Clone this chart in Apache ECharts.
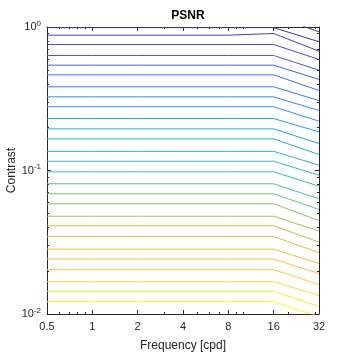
<!DOCTYPE html>
<html>
<head>
<meta charset="utf-8">
<script src="https://cdn.jsdelivr.net/npm/echarts@6/dist/echarts.min.js"></script>
<style>
  html, body { margin: 0; padding: 0; background: #fff; }
  #chart { width: 354px; height: 354px; }
</style>
</head>
<body>
<div id="chart"></div>
<script>
// contour lines of PSNR, top (high contrast) to bottom
var frequencies = [0.5, 1, 2, 4, 8, 16, 32];
var contrastFlat = [1.2, 0.99, 0.877, 0.755, 0.633, 0.542, 0.464, 0.383, 0.326, 0.278,
  0.230, 0.195, 0.166, 0.136, 0.116, 0.0979, 0.0808, 0.0688, 0.0586, 0.0480,
  0.0412, 0.0347, 0.0283, 0.0242, 0.0204, 0.0168, 0.0144, 0.0122];
var contrastAt16 = [1.2, 0.99, 0.901, 0.755, 0.633, 0.542, 0.464, 0.383, 0.326, 0.278,
  0.230, 0.195, 0.166, 0.136, 0.116, 0.0979, 0.0808, 0.0688, 0.0586, 0.0480,
  0.0412, 0.0347, 0.0283, 0.0242, 0.0204, 0.0168, 0.0144, 0.0122];
var contrastAt32 = [0.926, 0.789, 0.678, 0.594, 0.500, 0.431, 0.361, 0.307, 0.262, 0.2207,
  0.186, 0.1542, 0.1293, 0.1089, 0.0927, 0.0777, 0.0635, 0.0535, 0.0448, 0.0378,
  0.0317, 0.0267, 0.0225, 0.0191, 0.01605, 0.01345, 0.01128, 0.00961];
var xTickLabels = ['0.5', '1', '2', '4', '8', '16', '32'];
var yMinorTicks = [0.02, 0.03, 0.04, 0.05, 0.06, 0.07, 0.08, 0.09,
  0.2, 0.3, 0.4, 0.5, 0.6, 0.7, 0.8, 0.9];
var xMinorTicks = [0.6, 0.7, 0.8, 0.9, 3, 5, 6, 7, 9, 10, 20, 30];

// parula stops
var parula = [[62, 38, 168], [72, 82, 244], [46, 135, 247], [18, 177, 214],
  [55, 200, 151], [171, 199, 57], [254, 195, 56], [249, 251, 21]];
function parulaColor(t) {
  var p = t * (parula.length - 1);
  var i = Math.min(Math.floor(p), parula.length - 2);
  var f = p - i;
  var a = parula[i], b = parula[i + 1];
  var c = [0, 1, 2].map(function (k) { return Math.round(a[k] + (b[k] - a[k]) * f); });
  return 'rgb(' + c.join(',') + ')';
}

var n = contrastFlat.length;
var series = [];
for (var i = 0; i < n; i++) {
  var pts = [];
  for (var j = 0; j < frequencies.length; j++) {
    var fq = frequencies[j];
    var c = fq <= 8 ? contrastFlat[i] : (fq === 16 ? contrastAt16[i] : contrastAt32[i]);
    pts.push([fq, c]);
  }
  series.push({
    type: 'line',
    data: pts,
    symbol: 'none',
    clip: true,
    silent: true,
    lineStyle: { width: 1, color: parulaColor(i / (n - 1)) }
  });
}

var axisColor = '#262626';
var font = 'Liberation Sans, Arial, Helvetica, sans-serif';

var chart = echarts.init(document.getElementById('chart'), null, { renderer: 'canvas' });
chart.setOption({
  animation: false,
  backgroundColor: '#fff',
  title: {
    text: 'PSNR',
    left: 183,
    top: 5,
    textAlign: 'center',
    textStyle: { fontFamily: font, fontSize: 12, fontWeight: 'bold', color: '#000' }
  },
  grid: { left: 47, right: 35, top: 27, bottom: 40, containLabel: false, outerBoundsMode: 'none' },
  xAxis: [{
    type: 'log', logBase: 2, min: 0.5, max: 32,
    name: 'Frequency [cpd]', nameLocation: 'middle', nameGap: 26, nameMoveOverlap: false,
    nameTextStyle: { fontFamily: font, fontSize: 12, color: axisColor },
    axisLine: { lineStyle: { color: axisColor, width: 1 } },
    axisTick: { inside: true, length: 4, lineStyle: { color: axisColor } },
    axisLabel: {
      fontFamily: font, fontSize: 11, color: axisColor, margin: 7,
      formatter: function (v) {
        var k = Math.round(Math.log(v) / Math.LN2) + 1;
        return xTickLabels[k] || '';
      }
    },
    splitLine: { show: false }
  }, {
    type: 'log', logBase: 2, min: 0.5, max: 32, position: 'top',
    axisLine: { lineStyle: { color: axisColor, width: 1 } },
    axisTick: { inside: true, length: 4, lineStyle: { color: axisColor } },
    axisLabel: { show: false },
    splitLine: { show: false }
  }, {
    type: 'log', logBase: 2, min: 0.5, max: 32, position: 'bottom',
    axisLine: { show: false },
    axisTick: { inside: true, length: 2, customValues: xMinorTicks, lineStyle: { color: axisColor } },
    axisLabel: { show: false },
    splitLine: { show: false }
  }, {
    type: 'log', logBase: 2, min: 0.5, max: 32, position: 'top',
    axisLine: { show: false },
    axisTick: { inside: true, length: 2, customValues: xMinorTicks, lineStyle: { color: axisColor } },
    axisLabel: { show: false },
    splitLine: { show: false }
  }],
  yAxis: [{
    type: 'log', logBase: 10, min: 0.01, max: 1,
    name: 'Contrast', nameLocation: 'middle', nameGap: 29, nameRotate: 90, nameMoveOverlap: false,
    nameTextStyle: { fontFamily: font, fontSize: 12, color: axisColor },
    axisLine: { lineStyle: { color: axisColor, width: 1 } },
    axisTick: { inside: true, length: 4, lineStyle: { color: axisColor } },
    axisLabel: {
      fontFamily: font, fontSize: 11, color: axisColor, margin: 6,
      formatter: function (v) {
        var e = Math.round(Math.log(v) / Math.LN10);
        return '{b|10}{e|' + e + '}';
      },
      rich: {
        b: { fontFamily: font, fontSize: 11, color: axisColor },
        e: { fontFamily: font, fontSize: 8, color: axisColor, verticalAlign: 'bottom', padding: [0, 0, 7, 0] }
      }
    },
    splitLine: { show: false }
  }, {
    type: 'log', logBase: 10, min: 0.01, max: 1, position: 'right',
    axisLine: { lineStyle: { color: axisColor, width: 1 } },
    axisTick: { inside: true, length: 4, lineStyle: { color: axisColor } },
    axisLabel: { show: false },
    splitLine: { show: false }
  }, {
    type: 'log', logBase: 10, min: 0.01, max: 1, position: 'left',
    axisLine: { show: false },
    axisTick: { inside: true, length: 2, customValues: yMinorTicks, lineStyle: { color: axisColor } },
    axisLabel: { show: false },
    splitLine: { show: false }
  }, {
    type: 'log', logBase: 10, min: 0.01, max: 1, position: 'right',
    axisLine: { show: false },
    axisTick: { inside: true, length: 2, customValues: yMinorTicks, lineStyle: { color: axisColor } },
    axisLabel: { show: false },
    splitLine: { show: false }
  }],
  series: series
});
</script>
</body>
</html>
